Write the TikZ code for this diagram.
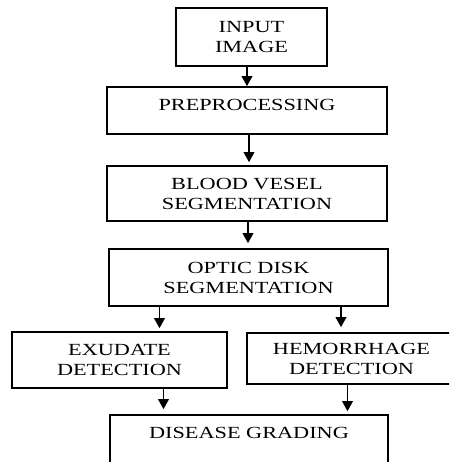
\documentclass[tikz,border=0pt]{standalone}
\usepackage{fontspec}
\setmainfont[FakeStretch=1.31]{Liberation Serif}
\usetikzlibrary{arrows.meta}
\begin{document}
\begin{tikzpicture}[x=1pt,y=-1pt,
  box/.style={draw=black, line width=1.6pt, inner sep=0pt, align=center,
    font=\fontsize{17}{20}\selectfont, text=black},
  arr/.style={line width=1.9pt, -{Triangle[length=10pt,width=10.5pt]}}]
\useasboundingbox (0,0) rectangle (449,462);
\clip (0,0) rectangle (449,462);
\node[box, minimum width=151pt, minimum height=58pt] (input) at (251.5,37) {INPUT\\IMAGE};
\node[box, minimum width=280pt, minimum height=47pt, align=none, text height=11.5pt, text depth=11.1pt] (pre) at (247,110.5) {PREPROCESSING};
\node[box, minimum width=280pt, minimum height=55pt] (blood) at (247,193.5) {BLOOD VESEL\\SEGMENTATION};
\node[box, minimum width=279pt, minimum height=57pt] (optic) at (248.5,277.5) {OPTIC DISK\\SEGMENTATION};
\node[box, minimum width=215pt, minimum height=56pt] (exu) at (119.5,360) {EXUDATE\\DETECTION};
\node[box, minimum width=209pt, minimum height=51pt] (hem) at (351.5,358.5) {HEMORRHAGE\\DETECTION};
\node[box, minimum width=278pt, minimum height=70pt, align=none, text height=11.5pt, text depth=35.5pt] (dis) at (249,450) {DISEASE GRADING};
\coordinate (c1) at ([xshift=2pt]pre.south);
\coordinate (c2) at ([xshift=1pt]blood.south);
\coordinate (c3) at ([xshift=40pt]exu.north);
\coordinate (c4) at ([xshift=-10.5pt]hem.north);
\coordinate (c5) at ([xshift=44pt]exu.south);
\coordinate (c6) at ([xshift=-4pt]hem.south);
\draw[arr] (input.south -| pre.north) -- (pre.north);
\draw[arr, shorten >=3pt] (c1) -- (c1 |- blood.north);
\draw[arr, shorten >=5pt] (c2) -- (c2 |- optic.north);
\draw[arr, shorten >=3pt] (c3 |- optic.south) -- (c3);
\draw[arr, shorten >=5pt] (c4 |- optic.south) -- (c4);
\draw[arr, shorten >=5pt] (c5) -- (c5 |- dis.north);
\draw[arr, shorten >=3pt] (c6) -- (c6 |- dis.north);
\end{tikzpicture}
\end{document}
